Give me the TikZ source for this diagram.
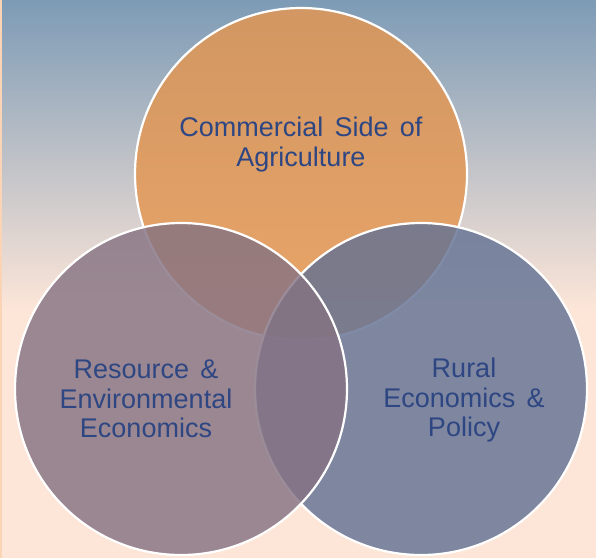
\documentclass[tikz,border=0pt]{standalone}
\usepackage{fontspec}
\setmainfont{Liberation Sans}[WordSpace=1.5]
\definecolor{bgtop}{RGB}{125,155,182}
\definecolor{bgpeach}{RGB}{253,230,216}
\definecolor{edgepeach}{RGB}{250,212,180}
\definecolor{orangefill}{RGB}{228,150,80}
\definecolor{mauvefill}{RGB}{134,115,131}
\definecolor{bluefill}{RGB}{99,114,148}
\definecolor{txtblue}{RGB}{46,70,130}
\tikzset{
  venn/.style={circle, minimum size=332pt, inner sep=0pt, draw=white, line width=2.2pt, fill opacity=0.82, draw opacity=1},
  lbl/.style={align=center, text=txtblue, font=\fontsize{27pt}{29.5pt}\selectfont}
}
\begin{document}
\begin{tikzpicture}[x=1pt,y=-1pt]
\useasboundingbox (0,0) rectangle (596,558);
\shade[top color=bgtop, bottom color=bgpeach] (0,0) rectangle (596,310);
\fill[bgpeach] (0,309) rectangle (596,558);
\fill[edgepeach] (0,0) rectangle (2,558);
\node[venn, fill=orangefill] (top) at (301,174) {};
\node[venn, fill=bluefill] (right) at (421,389) {};
\node[venn, fill=mauvefill] (left) at (181,389) {};
\node[lbl] (toptxt) at (301,144.5) {Commercial Side of\\Agriculture};
\node[lbl] (lefttxt) at (146,399) {Resource \&\\Environmental\\Economics};
\node[lbl] (righttxt) at (464,400.5) {Rural\\Economics \&\\Policy};
\end{tikzpicture}
\end{document}
